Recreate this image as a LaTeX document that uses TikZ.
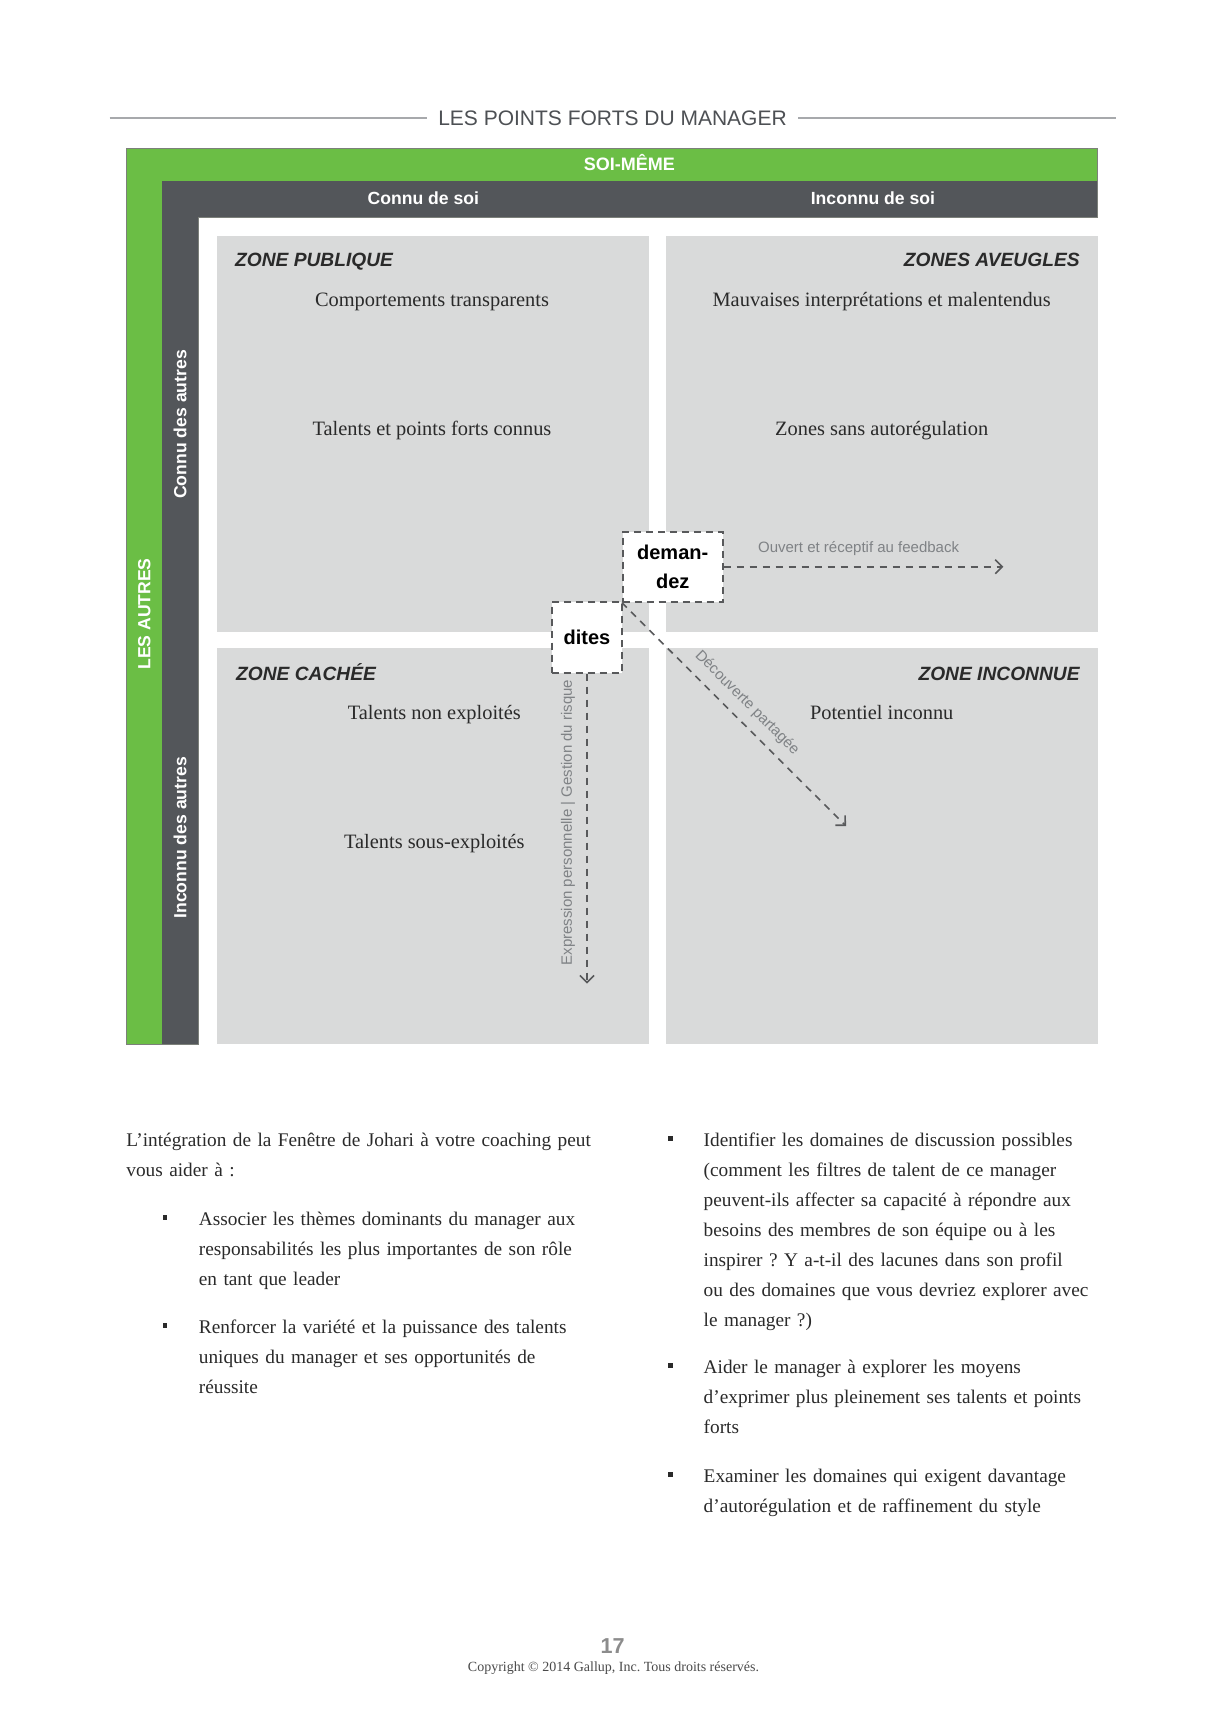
\documentclass[tikz,border=0pt]{standalone}
\usepackage{fontspec}
\setmainfont{Liberation Serif}
\setsansfont{Liberation Sans}
\usetikzlibrary{arrows.meta}
\frenchspacing
\definecolor{jgreen}{HTML}{6BBE45}
\definecolor{jdark}{HTML}{53565A}
\definecolor{jquad}{HTML}{D9DADA}
\definecolor{jtext}{HTML}{2A2A2A}
\definecolor{jline}{HTML}{58595B}
\definecolor{jlabel}{HTML}{7F8285}
\definecolor{jrule}{HTML}{A7A9AC}
\definecolor{jtitle}{HTML}{4D5054}
\definecolor{jpage}{HTML}{8C8C8C}
\definecolor{jedge}{HTML}{7C807A}
\begin{document}
\begin{tikzpicture}[x=0.5pt,y=-0.5pt,
  hdr/.style={font=\sffamily\bfseries\fontsize{8.8}{10}\selectfont, text=white, inner sep=0pt, text height=6.3pt, text depth=0pt},
  zone/.style={font=\sffamily\bfseries\itshape\fontsize{9.6}{11}\selectfont, text=jtext, inner sep=0pt, text height=6.9pt, text depth=0pt},
  item/.style={font=\fontsize{10.2}{12}\selectfont, text=jtext, inner sep=0pt, text height=6.7pt, text depth=0pt},
  dashbox/.style={draw=jline, fill=white, line width=0.9pt, dash pattern=on 3.5pt off 2.5pt, font=\sffamily\bfseries\fontsize{10}{14.8}\selectfont, text=black, align=center, inner sep=0pt},
  flow/.style={draw=jline, line width=0.8pt, dash pattern=on 3.5pt off 3pt, -{Straight Barb[length=3.5pt,width=7pt]}},
  lbl/.style={font=\sffamily\fontsize{7.5}{9}\selectfont, text=jlabel, inner sep=0pt},
  body/.style={font=\fontsize{9.65}{15}\selectfont, text=jtext, align=left, inner sep=0pt, anchor=base west},
  bullet/.style={fill=jtext, minimum size=2.4pt, inner sep=0pt}
]
\useasboundingbox (0,0) rectangle (1226,1719);
\fill[white] (0,0) rectangle (1226,1719);

% title with rules
\node[font=\sffamily\fontsize{10.5}{12}\selectfont, text=jtitle, inner xsep=5.5pt, inner ysep=0pt] (title) at (612.5,118.4) {LES POINTS FORTS DU MANAGER};
\coordinate (ruleL) at (109.7,118.4);
\coordinate (ruleR) at (1116.3,118.4);
\draw[jrule, line width=1pt] (ruleL) -- (title.west);
\draw[jrule, line width=1pt] (title.east) -- (ruleR);

% frames
\fill[jgreen] (126,148) rectangle (1097.7,1044);
\fill[jdark] (162.3,181) rectangle (1097.7,1044);
\fill[white] (198.5,217.1) rectangle (1097.7,1044);
\draw[jedge, line width=0.5pt] (126,1044) -- (126,148) -- (1097.7,148) -- (1097.7,217.1) -- (198.5,217.1) -- (198.5,1044) -- cycle;

% quadrants
\fill[jquad] (217.1,235.8) rectangle (649,631.7);
\fill[jquad] (666,235.8) rectangle (1097.7,631.7);
\fill[jquad] (217.1,648.3) rectangle (649,1044);
\fill[jquad] (666,648.3) rectangle (1097.7,1044);

% headers
\node[hdr, font=\sffamily\bfseries\fontsize{9}{10}\selectfont] (soi) at (629.4,164.5) {SOI-MÊME};
\node[hdr] (connuSoi) at (423.3,198.5) {Connu de soi};
\node[hdr] (inconnuSoi) at (872.9,198.5) {Inconnu de soi};
\node[hdr, rotate=90] (autres) at (144,614) {LES AUTRES};
\node[hdr, rotate=90] (connuAutres) at (180,424.4) {Connu des autres};
\node[hdr, rotate=90] (inconnuAutres) at (180,837.8) {Inconnu des autres};

% zone titles
\node[zone, anchor=west] (zPub) at (234.7,259.9) {ZONE PUBLIQUE};
\node[zone, anchor=east] (zAveu) at (1080,259.9) {ZONES AVEUGLES};
\node[zone, anchor=west] (zCach) at (235.8,673.3) {ZONE CACHÉE};
\node[zone, anchor=east] (zInc) at (1080,673.3) {ZONE INCONNUE};

% zone items
\node[item] (i1) at (432,299.4) {Comportements transparents};
\node[item] (i2) at (432,428.8) {Talents et points forts connus};
\node[item] (i3) at (881.7,299.4) {Mauvaises interprétations et malentendus};
\node[item] (i4) at (881.7,428.8) {Zones sans autorégulation};
\node[item] (i5) at (434.3,712.8) {Talents non exploités};
\node[item] (i6) at (434.3,842.2) {Talents sous-exploités};
\node[item] (i7) at (881.7,712.8) {Potentiel inconnu};

% dashed boxes
\node[dashbox, minimum width=50pt, minimum height=35pt] (demandez) at (672.7,566.7) {deman-\\dez};
\node[dashbox, minimum width=35.3pt, minimum height=35.2pt] (dites) at (587,637.5) {dites};

% connectors
\coordinate (fbEnd) at (1003.4,566.7);
\coordinate (decEnd) at (846,826);
\coordinate (exEnd) at (587,983.6);
\draw[flow] (demandez.east) -- (fbEnd);
\draw[flow] (demandez.south west) -- (decEnd);
\draw[flow] (dites.south) -- (exEnd);

% connector labels
\node[lbl] (fbLbl) at (858.6,548.3) {Ouvert et réceptif au feedback};
\node[lbl, rotate=-45] (decLbl) at (747,703) {Découverte partagée};
\node[lbl, rotate=90] (exLbl) at (568,822.5) {Expression personnelle | Gestion du risque};

% body text, left column
\node[body, text width=260pt] (intro) at (126,1146) {L’intégration de la Fenêtre de Johari à votre coaching peut\\vous aider à :};
\node[bullet] (bl1) at (165,1217.5) {};
\node[body, text width=230pt] (tl1) at (198.5,1225) {Associer les thèmes dominants du manager aux\\responsabilités les plus importantes de son rôle\\en tant que leader};
\node[bullet] (bl2) at (165,1325.5) {};
\node[body, text width=230pt] (tl2) at (198.5,1333) {Renforcer la variété et la puissance des talents\\uniques du manager et ses opportunités de\\réussite};

% body text, right column
\node[bullet] (br1) at (670.5,1138.5) {};
\node[body, text width=230pt] (tr1) at (703.3,1146) {Identifier les domaines de discussion possibles\\(comment les filtres de talent de ce manager\\peuvent-ils affecter sa capacité à répondre aux\\besoins des membres de son équipe ou à les\\inspirer ? Y a-t-il des lacunes dans son profil\\ou des domaines que vous devriez explorer avec\\le manager ?)};
\node[bullet] (br2) at (670.5,1365.5) {};
\node[body, text width=230pt] (tr2) at (703.3,1373) {Aider le manager à explorer les moyens\\d’exprimer plus pleinement ses talents et points\\forts};
\node[bullet] (br3) at (670.5,1474.5) {};
\node[body, text width=230pt] (tr3) at (703.3,1482) {Examiner les domaines qui exigent davantage\\d’autorégulation et de raffinement du style};

% footer
\node[font=\sffamily\bfseries\fontsize{10.8}{12}\selectfont, text=jpage, inner sep=0pt] (page) at (612.7,1646) {17};
\node[font=\fontsize{7}{8}\selectfont, text=jtext!85!white, anchor=base, inner sep=0pt] (copy) at (613.5,1671.5) {Copyright © 2014 Gallup, Inc. Tous droits réservés.};
\end{tikzpicture}
\end{document}
